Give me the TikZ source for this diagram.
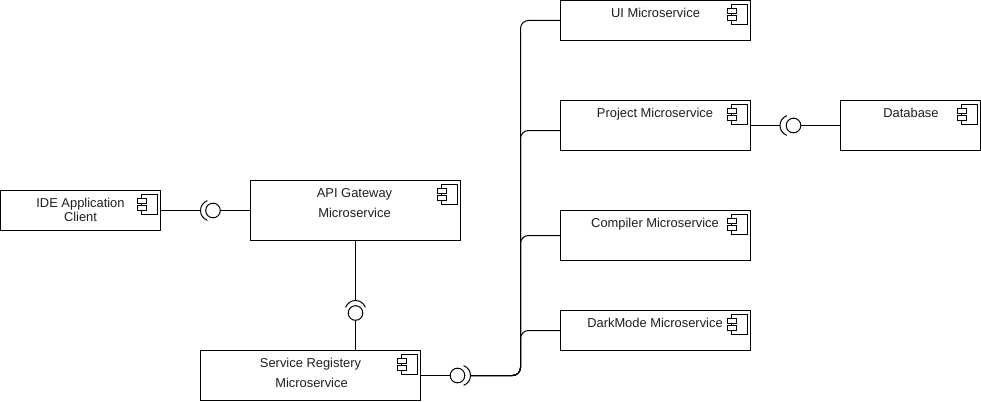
\documentclass[tikz,border=0pt]{standalone}
\usepackage{fontspec}
\setmainfont{Liberation Sans}
\tikzset{
  x=1pt,y=-1pt,
  box/.style={draw=black,line width=1pt,fill=white,rectangle,inner sep=0pt,outer sep=0pt},
  lbl/.style={draw=none,font=\fontsize{12.9}{14}\selectfont,text=black!88,align=center,inner sep=0pt,text height=9pt,text depth=2.5pt},
  ballnode/.style={draw=black,circle,line width=1pt,minimum size=14.6pt,inner sep=0pt,outer sep=0pt,fill=white},
  wire/.style={draw=black,line width=1pt},
  trunk/.style={wire,rounded corners=8pt},
  socket/.style={draw=black,line width=1pt},
  module/.pic={
    \draw[line width=1pt] (-19,4) rectangle (-3,24);
    \draw[line width=1pt,fill=white] (-23,8) rectangle (-14,13);
    \draw[line width=1pt,fill=white] (-23,15) rectangle (-14,20);
  }
}
\begin{document}
\begin{tikzpicture}
\useasboundingbox (0,0) rectangle (981,401);
% boxes
\node[box,minimum width=160pt,minimum height=40pt] (ide) at (80.5,210.5) {};
\node[box,minimum width=210pt,minimum height=60pt] (api) at (355.5,210.5) {};
\node[box,minimum width=220pt,minimum height=50pt] (reg) at (310.5,375.5) {};
\node[box,minimum width=190pt,minimum height=40pt] (ui) at (655.5,20.5) {};
\node[box,minimum width=190pt,minimum height=50pt] (proj) at (655.5,125.5) {};
\node[box,minimum width=190pt,minimum height=50pt] (comp) at (655.5,235.5) {};
\node[box,minimum width=190pt,minimum height=40pt] (dark) at (655.5,330.5) {};
\node[box,minimum width=140pt,minimum height=50pt] (db) at (910.5,125.5) {};
% labels
\node[lbl] (ideA) at (80.5,204) {IDE Application};
\node[lbl] (ideB) at (80.5,218) {Client};
\node[lbl] (apiA) at (354.5,194) {API Gateway};
\node[lbl] (apiB) at (354.5,214) {Microservice};
\node[lbl] (regA) at (310.5,364) {Service Registery};
\node[lbl] (regB) at (311.5,384) {Microservice};
\node[lbl] (uiL) at (655.5,14) {UI Microservice};
\node[lbl] (projL) at (655,114) {Project Microservice};
\node[lbl] (compL) at (655,224) {Compiler Microservice};
\node[lbl] (darkL) at (655,324) {DarkMode Microservice};
\node[lbl] (dbL) at (911,114) {Database};
% module icons
\pic at (ide.north east) {module};
\pic at (api.north east) {module};
\pic at (reg.north east) {module};
\pic at (ui.north east) {module};
\pic at (proj.north east) {module};
\pic at (comp.north east) {module};
\pic at (dark.north east) {module};
\pic at (db.north east) {module};
% balls
\node[ballnode] (b1) at (213,210.5) {};
\node[ballnode] (b2) at (355.5,313) {};
\node[ballnode] (b3) at (457.5,375.5) {};
\node[ballnode] (b4) at (793.5,125.5) {};
% socket ends
\coordinate (s1) at (200.5,210.5);
\coordinate (s2) at (355.5,300.5);
\coordinate (s3) at (470.5,375.5);
\coordinate (s4) at (780,125.5);
% sockets
\draw[socket] (s1) arc[start angle=180,end angle=110,radius=10.5];
\draw[socket] (s1) arc[start angle=180,end angle=250,radius=10.5];
\draw[socket] (s2) arc[start angle=-90,end angle=-20,radius=10.5];
\draw[socket] (s2) arc[start angle=-90,end angle=-160,radius=10.5];
\draw[socket] (s3) arc[start angle=0,end angle=70,radius=10.5];
\draw[socket] (s3) arc[start angle=0,end angle=-70,radius=10.5];
\draw[socket] (s4) arc[start angle=180,end angle=110,radius=10.5];
\draw[socket] (s4) arc[start angle=180,end angle=250,radius=10.5];
% straight connectors
\draw[wire] (ide.east) -- (s1);
\draw[wire] (b1.east) -- (b1.east -| api.west);
\draw[wire] (api.south -| s2) -- (s2);
\draw[wire] (b2.south) -- (b2.south |- reg.north);
\draw[wire] (reg.east) -- (b3.west);
\draw[wire] (proj.east) -- (s4);
\draw[wire] (b4.east) -- (db.west);
% trunk
\coordinate (tb) at (520.5,375.5);
\coordinate (pin) at (560.5,130.5);
\draw[trunk] (s3) -- (tb) |- (ui.west);
\draw[trunk] (s3) -- (tb) |- (pin);
\draw[trunk] (s3) -- (tb) |- (comp.west);
\draw[trunk] (s3) -- (tb) |- (dark.west);
\end{tikzpicture}
\end{document}
